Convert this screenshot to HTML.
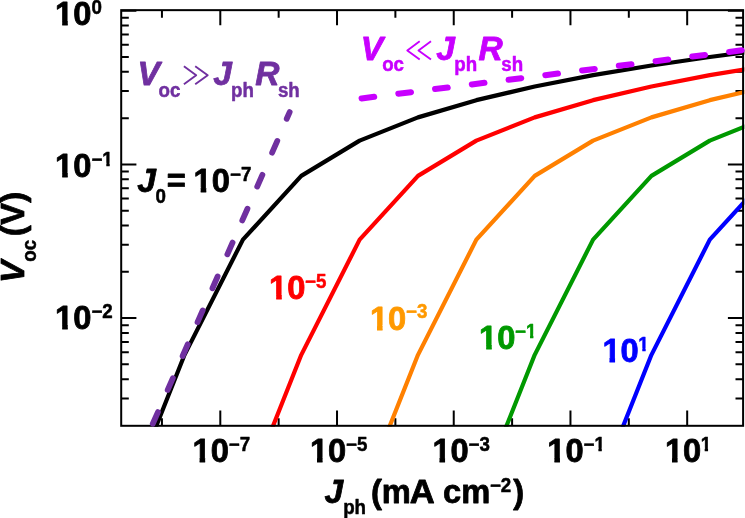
<!DOCTYPE html><html><head><meta charset="utf-8"><style>html,body{margin:0;padding:0;background:#fff}svg{display:block;will-change:transform;-webkit-font-smoothing:antialiased}</style></head><body><svg width="745" height="518" viewBox="0 0 745 518">
<rect width="745" height="518" fill="#fff"/>
<defs><clipPath id="c"><rect x="121.2" y="10.2" width="623.1" height="416.5"/></clipPath></defs>
<path d="M161.94 425.80v-7.60 M161.94 10.15v7.60 M220.30 425.80v-15.20 M220.30 10.15v15.20 M278.66 425.80v-7.60 M278.66 10.15v7.60 M337.02 425.80v-15.20 M337.02 10.15v15.20 M395.38 425.80v-7.60 M395.38 10.15v7.60 M453.74 425.80v-15.20 M453.74 10.15v15.20 M512.10 425.80v-7.60 M512.10 10.15v7.60 M570.46 425.80v-15.20 M570.46 10.15v15.20 M628.82 425.80v-7.60 M628.82 10.15v7.60 M687.18 425.80v-15.20 M687.18 10.15v15.20 M121.20 10.70h15.20 M743.10 10.70h-15.20 M121.20 17.73h7.60 M743.10 17.73h-7.60 M121.20 25.60h7.60 M743.10 25.60h-7.60 M121.20 34.51h7.60 M743.10 34.51h-7.60 M121.20 44.80h7.60 M743.10 44.80h-7.60 M121.20 56.97h7.60 M743.10 56.97h-7.60 M121.20 71.86h7.60 M743.10 71.86h-7.60 M121.20 91.07h7.60 M743.10 91.07h-7.60 M121.20 118.13h7.60 M743.10 118.13h-7.60 M121.20 164.40h15.20 M743.10 164.40h-15.20 M121.20 171.43h7.60 M743.10 171.43h-7.60 M121.20 179.30h7.60 M743.10 179.30h-7.60 M121.20 188.21h7.60 M743.10 188.21h-7.60 M121.20 198.50h7.60 M743.10 198.50h-7.60 M121.20 210.67h7.60 M743.10 210.67h-7.60 M121.20 225.56h7.60 M743.10 225.56h-7.60 M121.20 244.77h7.60 M743.10 244.77h-7.60 M121.20 271.83h7.60 M743.10 271.83h-7.60 M121.20 318.10h15.20 M743.10 318.10h-15.20 M121.20 325.13h7.60 M743.10 325.13h-7.60 M121.20 333.00h7.60 M743.10 333.00h-7.60 M121.20 341.91h7.60 M743.10 341.91h-7.60 M121.20 352.20h7.60 M743.10 352.20h-7.60 M121.20 364.37h7.60 M743.10 364.37h-7.60 M121.20 379.26h7.60 M743.10 379.26h-7.60 M121.20 398.47h7.60 M743.10 398.47h-7.60" stroke="#000" stroke-width="2" fill="none"/>
<g clip-path="url(#c)" fill="none" stroke-width="4.2" stroke-linejoin="round">
<polyline stroke="#000000" points="67.84,654.72 126.20,501.77 184.56,354.83 242.92,239.66 301.28,175.86 359.64,140.60 418.00,117.38 476.36,100.16 534.72,86.49 593.08,75.14 651.44,65.45 709.80,56.99 768.16,49.48 826.52,42.73"/>
<polyline stroke="#ff0000" points="184.56,654.72 242.92,501.77 301.28,354.83 359.64,239.66 418.00,175.86 476.36,140.60 534.72,117.38 593.08,100.16 651.44,86.49 709.80,75.14 768.16,65.45 826.52,56.99 884.88,49.48 943.24,42.73"/>
<polyline stroke="#ff8000" points="301.28,654.72 359.64,501.77 418.00,354.83 476.36,239.66 534.72,175.86 593.08,140.60 651.44,117.38 709.80,100.16 768.16,86.49 826.52,75.14 884.88,65.45 943.24,56.99 1001.60,49.48 1059.96,42.73"/>
<polyline stroke="#009900" points="418.00,654.72 476.36,501.77 534.72,354.83 593.08,239.66 651.44,175.86 709.80,140.60 768.16,117.38 826.52,100.16 884.88,86.49 943.24,75.14 1001.60,65.45 1059.96,56.99 1118.32,49.48 1176.68,42.73"/>
<polyline stroke="#0000ff" points="534.72,654.72 593.08,501.77 651.44,354.83 709.80,239.66 768.16,175.86 826.52,140.60 884.88,117.38 943.24,100.16 1001.60,86.49 1059.96,75.14 1118.32,65.45 1176.68,56.99 1235.04,49.48 1293.40,42.73"/>
</g>
<rect x="121.20" y="10.15" width="621.90" height="415.65" stroke="#000" stroke-width="2" fill="none"/>
<g clip-path="url(#c)" stroke="#7030a0" stroke-width="5.8" stroke-linecap="round">
<line x1="152.78" y1="423.79" x2="157.94" y2="412.07"/>
<line x1="167.70" y1="389.90" x2="172.86" y2="378.18"/>
<line x1="182.62" y1="356.01" x2="187.78" y2="344.29"/>
<line x1="197.54" y1="322.12" x2="202.70" y2="310.40"/>
<line x1="212.46" y1="288.23" x2="217.62" y2="276.51"/>
<line x1="227.38" y1="254.34" x2="232.54" y2="242.62"/>
<line x1="242.30" y1="220.45" x2="247.46" y2="208.73"/>
<line x1="257.22" y1="186.56" x2="262.38" y2="174.84"/>
<line x1="272.14" y1="152.67" x2="277.30" y2="140.95"/>
<line x1="286.73" y1="118.74" x2="289.67" y2="112.06"/>
</g>
<g stroke="#c800ff" stroke-width="6" stroke-linecap="round">
<line x1="361.55" y1="98.40" x2="374.25" y2="96.80"/>
<line x1="398.30" y1="93.75" x2="411.00" y2="92.15"/>
<line x1="435.05" y1="89.10" x2="447.75" y2="87.50"/>
<line x1="471.80" y1="84.45" x2="484.50" y2="82.85"/>
<line x1="508.55" y1="79.80" x2="521.25" y2="78.20"/>
<line x1="545.30" y1="75.15" x2="558.00" y2="73.55"/>
<line x1="582.05" y1="70.50" x2="594.75" y2="68.90"/>
<line x1="618.80" y1="65.85" x2="631.50" y2="64.25"/>
<line x1="655.55" y1="61.20" x2="668.25" y2="59.60"/>
<line x1="692.30" y1="56.55" x2="705.00" y2="54.95"/>
<line x1="729.05" y1="51.90" x2="741.75" y2="50.30"/>
</g>
<defs><clipPath id="k3130_335"><path d="M-10 -40.20H200V-4.57H-10ZM-10.00 -4.67H0.76V13.40H-10.00ZM7.27 -4.67H12.97V13.40H7.27ZM19.05 -4.67H200V13.40H19.05Z"/></clipPath><clipPath id="k1231_195"><path d="M-10 -23.40H200V-2.99H-10ZM-10.00 -3.09H11.42V7.80H-10.00ZM15.54 -3.09H19.01V7.80H15.54ZM22.89 -3.09H200V7.80H22.89Z"/></clipPath><clipPath id="k31_195"><path d="M-10 -23.40H200V-2.99H-10ZM-10.00 -3.09H0.03V7.80H-10.00ZM4.15 -3.09H7.63V7.80H4.15ZM11.50 -3.09H200V7.80H11.50Z"/></clipPath></defs>
<g font-family="'Liberation Sans', sans-serif" font-weight="bold" stroke-linejoin="round">
<text transform="translate(55.11,25.40) scale(0.975,1)" font-size="33.5" fill="#000000" stroke="#000000" stroke-width="0.8" clip-path="url(#k3130_335)">10</text>
<text transform="translate(91.46,14.00) scale(0.960,1)" font-size="19.5" fill="#000000" stroke="#000000" stroke-width="0.5">0</text>
<text transform="translate(55.11,177.10) scale(0.975,1)" font-size="33.5" fill="#000000" stroke="#000000" stroke-width="0.8" clip-path="url(#k3130_335)">10</text>
<text transform="translate(91.42,165.70) scale(0.960,1)" font-size="19.5" fill="#000000" stroke="#000000" stroke-width="0.5" clip-path="url(#k1231_195)">−1</text>
<text transform="translate(55.11,329.40) scale(0.975,1)" font-size="33.5" fill="#000000" stroke="#000000" stroke-width="0.8" clip-path="url(#k3130_335)">10</text>
<text transform="translate(91.42,318.00) scale(0.960,1)" font-size="19.5" fill="#000000" stroke="#000000" stroke-width="0.5">−2</text>
<text transform="translate(192.51,462.20) scale(0.975,1)" font-size="33.5" fill="#000000" stroke="#000000" stroke-width="0.8" clip-path="url(#k3130_335)">10</text>
<text transform="translate(228.72,450.80) scale(0.960,1)" font-size="19.5" fill="#000000" stroke="#000000" stroke-width="0.5">−7</text>
<text transform="translate(309.91,462.20) scale(0.975,1)" font-size="33.5" fill="#000000" stroke="#000000" stroke-width="0.8" clip-path="url(#k3130_335)">10</text>
<text transform="translate(346.12,450.80) scale(0.960,1)" font-size="19.5" fill="#000000" stroke="#000000" stroke-width="0.5">−5</text>
<text transform="translate(432.41,462.20) scale(0.975,1)" font-size="33.5" fill="#000000" stroke="#000000" stroke-width="0.8" clip-path="url(#k3130_335)">10</text>
<text transform="translate(468.62,450.80) scale(0.960,1)" font-size="19.5" fill="#000000" stroke="#000000" stroke-width="0.5">−3</text>
<text transform="translate(547.31,462.20) scale(0.975,1)" font-size="33.5" fill="#000000" stroke="#000000" stroke-width="0.8" clip-path="url(#k3130_335)">10</text>
<text transform="translate(583.52,450.80) scale(0.960,1)" font-size="19.5" fill="#000000" stroke="#000000" stroke-width="0.5" clip-path="url(#k1231_195)">−1</text>
<text transform="translate(664.91,462.20) scale(0.975,1)" font-size="33.5" fill="#000000" stroke="#000000" stroke-width="0.8" clip-path="url(#k3130_335)">10</text>
<text transform="translate(700.72,450.80) scale(0.960,1)" font-size="19.5" fill="#000000" stroke="#000000" stroke-width="0.5" clip-path="url(#k31_195)">1</text>
<text transform="translate(269.11,299.00) scale(0.975,1)" font-size="33.5" fill="#ff0000" stroke="#ff0000" stroke-width="0.8" clip-path="url(#k3130_335)">10</text>
<text transform="translate(305.12,287.60) scale(0.960,1)" font-size="19.5" fill="#ff0000" stroke="#ff0000" stroke-width="0.5">−5</text>
<text transform="translate(369.91,329.70) scale(0.975,1)" font-size="33.5" fill="#ff9900" stroke="#ff9900" stroke-width="0.8" clip-path="url(#k3130_335)">10</text>
<text transform="translate(406.12,318.30) scale(0.960,1)" font-size="19.5" fill="#ff9900" stroke="#ff9900" stroke-width="0.5">−3</text>
<text transform="translate(479.11,349.00) scale(0.975,1)" font-size="33.5" fill="#009900" stroke="#009900" stroke-width="0.8" clip-path="url(#k3130_335)">10</text>
<text transform="translate(515.12,337.60) scale(0.960,1)" font-size="19.5" fill="#009900" stroke="#009900" stroke-width="0.5" clip-path="url(#k1231_195)">−1</text>
<text transform="translate(602.41,362.30) scale(0.975,1)" font-size="33.5" fill="#0000ff" stroke="#0000ff" stroke-width="0.8" clip-path="url(#k3130_335)">10</text>
<text transform="translate(638.32,350.90) scale(0.960,1)" font-size="19.5" fill="#0000ff" stroke="#0000ff" stroke-width="0.5" clip-path="url(#k31_195)">1</text>
<text transform="translate(137.30,192.00) scale(1.000,1)" font-size="33.5" fill="#000000" stroke="#000000" stroke-width="0.8" font-style="italic">J</text>
<text transform="translate(155.46,202.60) scale(0.960,1)" font-size="19.5" fill="#000000" stroke="#000000" stroke-width="0.5">0</text>
<text transform="translate(166.64,192.00) scale(0.975,1)" font-size="33.5" fill="#000000" stroke="#000000" stroke-width="0.8">=</text>
<text transform="translate(193.61,192.00) scale(0.975,1)" font-size="33.5" fill="#000000" stroke="#000000" stroke-width="0.8" clip-path="url(#k3130_335)">10</text>
<text transform="translate(230.12,180.60) scale(0.960,1)" font-size="19.5" fill="#000000" stroke="#000000" stroke-width="0.5">−7</text>
<text transform="translate(137.40,85.40) scale(1.000,1)" font-size="33.5" fill="#7030a0" stroke="#7030a0" stroke-width="0.8" font-style="italic">V</text>
<text transform="translate(158.47,96.60) scale(0.960,1)" font-size="19.5" fill="#7030a0" stroke="#7030a0" stroke-width="0.5">oc</text>
<text transform="translate(213.20,85.40) scale(1.000,1)" font-size="33.5" fill="#7030a0" stroke="#7030a0" stroke-width="0.8" font-style="italic">J</text>
<text transform="translate(231.07,96.60) scale(0.960,1)" font-size="19.5" fill="#7030a0" stroke="#7030a0" stroke-width="0.5">ph</text>
<text transform="translate(255.21,85.40) scale(1.000,1)" font-size="33.5" fill="#7030a0" stroke="#7030a0" stroke-width="0.8" font-style="italic">R</text>
<text transform="translate(277.94,96.60) scale(0.960,1)" font-size="19.5" fill="#7030a0" stroke="#7030a0" stroke-width="0.5">sh</text>
<text transform="translate(360.70,60.00) scale(1.000,1)" font-size="33.5" fill="#c800ff" stroke="#c800ff" stroke-width="0.8" font-style="italic">V</text>
<text transform="translate(382.17,71.20) scale(0.960,1)" font-size="19.5" fill="#c800ff" stroke="#c800ff" stroke-width="0.5">oc</text>
<text transform="translate(436.30,60.00) scale(1.000,1)" font-size="33.5" fill="#c800ff" stroke="#c800ff" stroke-width="0.8" font-style="italic">J</text>
<text transform="translate(454.27,71.20) scale(0.960,1)" font-size="19.5" fill="#c800ff" stroke="#c800ff" stroke-width="0.5">ph</text>
<text transform="translate(478.61,60.00) scale(1.000,1)" font-size="33.5" fill="#c800ff" stroke="#c800ff" stroke-width="0.8" font-style="italic">R</text>
<text transform="translate(501.24,71.20) scale(0.960,1)" font-size="19.5" fill="#c800ff" stroke="#c800ff" stroke-width="0.5">sh</text>
<text transform="translate(324.60,503.10) scale(1.000,1)" font-size="33.5" fill="#000000" stroke="#000000" stroke-width="0.8" font-style="italic">J</text>
<text transform="translate(343.17,513.80) scale(0.960,1)" font-size="19.5" fill="#000000" stroke="#000000" stroke-width="0.5">ph</text>
<text transform="translate(370.97,503.10) scale(0.975,1)" font-size="33.5" fill="#000000" stroke="#000000" stroke-width="0.8">(</text>
<text transform="translate(381.75,503.10) scale(0.975,1)" font-size="33.5" fill="#000000" stroke="#000000" stroke-width="0.8">m</text>
<text transform="translate(409.74,503.10) scale(1.030,1)" font-size="33.5" fill="#000000" stroke="#000000" stroke-width="0.8">A</text>
<text transform="translate(443.12,503.10) scale(0.975,1)" font-size="33.5" fill="#000000" stroke="#000000" stroke-width="0.8">cm</text>
<text transform="translate(489.92,491.60) scale(0.960,1)" font-size="19.5" fill="#000000" stroke="#000000" stroke-width="0.5">−2</text>
<text transform="translate(513.37,503.10) scale(0.975,1)" font-size="33.5" fill="#000000" stroke="#000000" stroke-width="0.8">)</text>
<path d="M183.9 66.2L196.2 75.2L183.9 84.3M195.2 66.2L207.7 75.2L195.2 84.3" fill="none" stroke="#7030a0" stroke-width="1.9" stroke-miterlimit="10"/>
<path d="M419.7 41.2L407.3 50.4L419.7 59.6M431.0 41.2L418.5 50.4L431.0 59.6" fill="none" stroke="#c800ff" stroke-width="1.9" stroke-miterlimit="10"/>
<text transform="translate(24.30,282.90) rotate(-90) scale(1.000,1)" font-size="33.5" fill="#000" stroke="#000" stroke-width="0.8" font-style="italic">V</text>
<text transform="translate(35.60,261.63) rotate(-90) scale(0.960,1)" font-size="19.5" fill="#000" stroke="#000" stroke-width="0.5">oc</text>
<text transform="translate(24.30,236.23) rotate(-90) scale(0.975,1)" font-size="33.5" fill="#000" stroke="#000" stroke-width="0.8">(</text>
<text transform="translate(24.30,224.72) rotate(-90) scale(0.975,1)" font-size="33.5" fill="#000" stroke="#000" stroke-width="0.8">V</text>
<text transform="translate(24.30,202.83) rotate(-90) scale(0.975,1)" font-size="33.5" fill="#000" stroke="#000" stroke-width="0.8">)</text>
</g>
</svg></body></html>
